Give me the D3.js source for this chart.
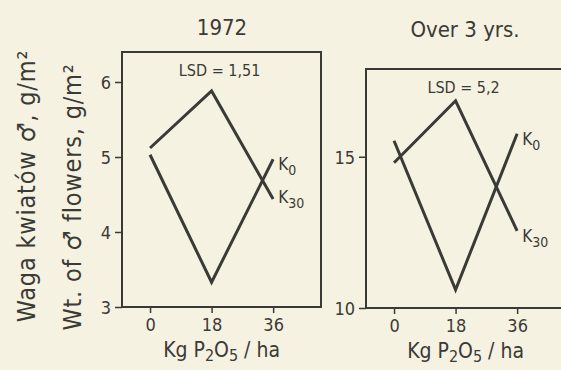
<!DOCTYPE html>
<html>
<head>
<meta charset="utf-8">
<script src="https://cdn.jsdelivr.net/npm/d3@7"></script>
<style>
  body { margin: 0; background: #f6f2e1; }
  svg { display: block; }
  text { font-family: "Liberation Sans Narrow", "DejaVu Sans Condensed", sans-serif; fill: #3a3a36; }
</style>
</head>
<body>
<div id="chart"></div>
<script>
// P2O5 doses, kg/ha
const doses = [0, 18, 36];

// weight of male flowers, g/m2
const k0_1972 = [5.03, 3.33, 4.97];
const k30_1972 = [5.12, 5.88, 4.44];
const k0_3yrs = [15.53, 10.6, 15.76];
const k30_3yrs = [14.8, 16.85, 12.55];

const yTicks_1972 = [3, 4, 5, 6];
const yTicks_3yrs = [10, 15];

const ink = "#3a3a36";
const W = 561, H = 370;

const panels = [
  {
    title: "1972", titleX: 222, titleY: 35,
    lsd: "LSD = 1,51",
    box: {left: 122, right: 321, top: 52, bottom: 307},
    yDomain: [3, 6.4], yTicks: yTicks_1972,
    series: [
      {name: "0", values: k0_1972, dy: 11},
      {name: "30", values: k30_1972, dy: 4}
    ]
  },
  {
    title: "Over 3 yrs.", titleX: 465, titleY: 37,
    lsd: "LSD = 5,2",
    box: {left: 366, right: 565, top: 69, bottom: 308},
    yDomain: [10, 17.9], yTicks: yTicks_3yrs,
    series: [
      {name: "0", values: k0_3yrs, dy: 11},
      {name: "30", values: k30_3yrs, dy: 11}
    ]
  }
];

const svg = d3.select("#chart").append("svg")
  .attr("width", W).attr("height", H);

svg.append("rect").attr("width", W).attr("height", H).attr("fill", "#f6f2e1");

panels.forEach(p => draw_panel(svg, p));

// y axis titles (Polish + English)
svg.append("text")
  .attr("transform", "translate(35,186) rotate(-90)")
  .attr("text-anchor", "middle")
  .style("font-size", "25px")
  .style("letter-spacing", "0.8px")
  .text("Waga kwiatów \u2642, g/m\u00B2");

svg.append("text")
  .attr("transform", "translate(81,197) rotate(-90)")
  .attr("text-anchor", "middle")
  .style("font-size", "25px")
  .style("letter-spacing", "0.8px")
  .text("Wt. of \u2642 flowers, g/m\u00B2");

function draw_panel(parent, p) {
  const b = p.box;
  const x = d3.scaleLinear([-8.2, 50], [b.left, b.right]);
  const y = d3.scaleLinear(p.yDomain, [b.bottom, b.top]);

  const g = parent.append("g");

  // title
  g.append("text")
    .attr("x", p.titleX).attr("y", p.titleY)
    .attr("text-anchor", "middle")
    .style("font-size", "22px")
    .text(p.title);

  // frame
  g.append("rect")
    .attr("x", b.left).attr("y", b.top)
    .attr("width", b.right - b.left).attr("height", b.bottom - b.top)
    .attr("fill", "none").attr("stroke", ink).attr("stroke-width", 2);

  // axes
  const xAxis = g.append("g")
    .attr("transform", `translate(0,${b.bottom})`)
    .call(d3.axisBottom(x).tickValues(doses).tickSize(6).tickPadding(5));
  const yAxis = g.append("g")
    .attr("transform", `translate(${b.left},0)`)
    .call(d3.axisLeft(y).tickValues(p.yTicks).tickFormat(d3.format("d")).tickSize(7).tickPadding(4));

  [xAxis, yAxis].forEach(a => {
    a.select(".domain").remove();
    a.selectAll("line").attr("stroke", ink).attr("stroke-width", 1.5);
    a.selectAll("text").attr("fill", ink)
      .style("font-size", "18px")
      .style("font-family", '"Liberation Sans Narrow", "DejaVu Sans Condensed", sans-serif');
  });
  yAxis.selectAll("text").attr("dy", "0.36em");

  // LSD
  g.append("text")
    .attr("x", x(18) + 8).attr("y", b.top + 24)
    .attr("text-anchor", "middle")
    .style("font-size", "16px")
    .text(p.lsd);

  // lines
  const line = d3.line()
    .x((d, i) => x(doses[i]))
    .y(d => y(d));

  g.selectAll("path.value-lines")
    .data(p.series)
    .join("path")
    .attr("class", "value-lines")
    .attr("d", d => line(d.values))
    .attr("fill", "none")
    .attr("stroke", ink)
    .attr("stroke-width", 3);

  // K labels
  const lab = g.selectAll("text.klab")
    .data(p.series)
    .join("text")
    .attr("class", "klab")
    .attr("x", d => x(doses[2]) + 5)
    .attr("y", d => y(d.values[2]) + d.dy)
    .style("font-size", "17px");
  lab.append("tspan").text("K");
  lab.append("tspan")
    .attr("dy", 5)
    .style("font-size", "14px")
    .text(d => d.name);

  // axis title
  const t = g.append("text")
    .attr("x", x(18) + 10).attr("y", b.bottom + 50)
    .attr("text-anchor", "middle")
    .style("font-size", "21px");
  t.append("tspan").text("Kg  P");
  t.append("tspan").attr("dy", 4).style("font-size", "16px").text("2");
  t.append("tspan").attr("dy", -4).text("O");
  t.append("tspan").attr("dy", 4).style("font-size", "16px").text("5");
  t.append("tspan").attr("dy", -4).text(" / ha");
}
</script>
</body>
</html>
